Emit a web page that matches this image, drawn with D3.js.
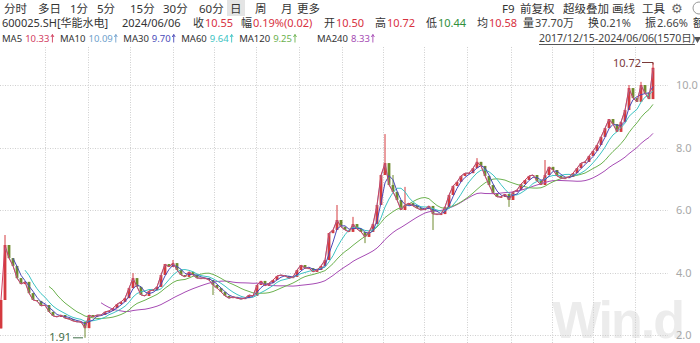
<!DOCTYPE html>
<html>
<head>
<meta charset="utf-8">
<script src="https://d3js.org/d3.v7.min.js"></script>
<style>
  body { margin: 0; background: #fff; }
  svg { display: block; font-family: "Noto Sans", "Noto Sans CJK SC", sans-serif; }
</style>
</head>
<body>
<svg width="700" height="343"></svg>
<script>
// ---- data (one sample ~ every 9.6 trading days) ----
const totalDays = 1570;
const firstOpen = 2.21;
const closes = [
  3.12, 4.88, 4.46, 4.21, 3.82, 3.63, 3.70, 3.34, 3.12, 3.09,
  2.93, 2.96, 2.74, 2.61, 2.58, 2.64, 2.54, 2.51, 2.45, 2.42,
  2.42, 2.22, 2.64, 2.58, 2.64, 2.64, 2.74, 2.77, 2.86, 2.99,
  3.06, 3.18, 3.50, 3.82, 3.54, 3.28, 3.25, 3.41, 3.44, 3.54,
  3.92, 4.27, 4.18, 4.30, 4.08, 3.92, 3.86, 4.02, 3.92, 3.82,
  3.82, 3.82, 3.76, 3.60, 3.50, 3.38, 3.25, 3.18, 3.22, 3.18,
  3.15, 3.18, 3.28, 3.25, 3.60, 3.73, 3.57, 3.66, 3.76, 3.89,
  3.92, 3.89, 3.82, 3.86, 4.08, 4.24, 4.14, 4.14, 4.02, 4.08,
  4.21, 4.40, 5.26, 5.36, 5.68, 5.46, 5.36, 5.30, 5.55, 5.39,
  5.30, 5.14, 5.30, 5.55, 6.16, 7.12, 7.50, 6.80, 6.58, 6.32,
  6.00, 6.16, 6.22, 6.13, 6.06, 6.00, 6.03, 6.13, 5.87, 5.87,
  5.87, 6.10, 6.48, 6.77, 6.90, 7.09, 7.18, 7.18, 7.34, 7.54,
  7.41, 7.09, 6.80, 6.54, 6.42, 6.42, 6.51, 6.32, 6.58, 6.64,
  6.83, 6.96, 7.09, 7.12, 6.93, 6.80, 7.12, 7.38, 7.28, 7.09,
  7.02, 7.02, 7.06, 7.18, 7.34, 7.50, 7.54, 7.73, 7.89, 8.08,
  8.34, 8.62, 8.91, 8.75, 8.50, 8.82, 9.20, 9.90, 9.58, 9.46,
  10.00, 9.74, 9.55, 10.55
];
// sparse wick extremes: [sample index, price]
const wickHighs = [[1, 5.20], [33, 3.98], [43, 4.40], [84, 6.16], [88, 5.78], [96, 8.43],
  [98, 7.12], [101, 6.74], [119, 7.66], [136, 7.60], [157, 10.00], [160, 10.10], [163, 10.72]];
const wickLows = [[21, 1.91], [53, 3.28], [91, 4.94], [108, 5.36], [127, 6.10]];

const yTicks = [2, 4, 6, 8, 10];
// vertical grid lines, in sample units
const gridSamples = [11.1, 21.8, 32.3, 43, 53.2, 63.7, 74.5, 85.2, 95.5, 105.7, 116.5, 127.5, 137.7, 148, 158.5];

const maDefs = [
  { name: 'MA240', n: 240, color: '#a64bb4', val: '8.33' },
  { name: 'MA120', n: 120, color: '#6cb24f', val: '9.25' },
  { name: 'MA60',  n: 60,  color: '#3cc3c3', val: '9.64' },
  { name: 'MA30',  n: 30,  color: '#4a4ab8', val: '9.70' },
  { name: 'MA10',  n: 10,  color: '#6f9fcc', val: '10.09' },
  { name: 'MA5',   n: 5,   color: '#d2405f', val: '10.33' }
];

const tabs = ['分时', '多日', '1分', '5分', '15分', '30分', '60分', '日', '周', '月', '更多'];
const tools = ['F9', '前复权', '超级叠加', '画线', '工具'];
const quote = [
  ['收', '10.55', 'up'], ['幅', '0.19%(0.02)', 'up'], ['开', '10.50', 'up'], ['高', '10.72', 'up'],
  ['低', '10.44', 'down'], ['均', '10.58', 'up'], ['量', '37.70万', 'flat'], ['换', '0.21%', 'flat'],
  ['振', '2.66%', 'flat']
];

// ---- layout ----
const svg = d3.select('svg');
const plotTop = 47, plotBottom = 343, plotRight = 668;
const red = '#d8323f', green = '#2f8f3a', txt = '#333';
const upCol = '#d43a3f', downCol = '#6f8a2e';

const x = d3.scaleLinear().domain([0, closes.length - 1]).range([1, 653]);
const y = d3.scaleLinear().domain([2, 10]).range([335, 85]);

// watermark
svg.append('text')
  .attr('x', 552).attr('y', 338)
  .attr('font-family', 'Liberation Sans, Arial, sans-serif')
  .attr('font-weight', 'bold').attr('font-size', 52).attr('letter-spacing', -2)
  .attr('fill', '#ececec').text('Win.d');

// grid
const grid = svg.append('g').attr('stroke', '#cfcfcf').attr('stroke-dasharray', '1,1.5');
grid.selectAll('line.h').data(yTicks).join('line').attr('class', 'h')
  .attr('x1', 0).attr('x2', plotRight)
  .attr('y1', d => Math.round(y(d)) + 0.5).attr('y2', d => Math.round(y(d)) + 0.5);
grid.selectAll('line.v').data(gridSamples).join('line').attr('class', 'v')
  .attr('x1', d => Math.round(x(d)) + 0.5).attr('x2', d => Math.round(x(d)) + 0.5)
  .attr('y1', plotTop).attr('y2', plotBottom);

// y axis labels
svg.append('g').selectAll('text').data(yTicks).join('text')
  .attr('x', 676).attr('y', d => y(d) + 4)
  .attr('font-size', 11).attr('fill', '#a8a8a8')
  .text(d => d.toFixed(1));

// candles
const hiMap = new Map(wickHighs), loMap = new Map(wickLows);
const candles = closes.map((c, i) => {
  const o = i === 0 ? firstOpen : closes[i - 1];
  const h = Math.max(o, c, hiMap.get(i) || 0);
  const l = Math.min(o, c, loMap.has(i) ? loMap.get(i) : Infinity);
  return { i, o, c, h, l, up: c >= o };
});

const plot = svg.append('g');
const cg = plot.append('g');
cg.selectAll('line').data(candles).join('line')
  .attr('x1', d => x(d.i)).attr('x2', d => x(d.i))
  .attr('y1', d => y(d.h)).attr('y2', d => y(d.l))
  .attr('stroke', d => d.up ? upCol : downCol).attr('stroke-width', 1);
cg.selectAll('rect').data(candles).join('rect')
  .attr('x', d => x(d.i) - 1.4).attr('width', 2.8)
  .attr('y', d => y(Math.max(d.o, d.c)))
  .attr('height', d => Math.max(1, Math.abs(y(d.o) - y(d.c))))
  .attr('fill', d => d.up ? upCol : downCol);

// moving averages computed from closes (window scaled to sample spacing)
const daysPerSample = totalDays / closes.length;
function movingAvg(n) {
  const w = Math.max(1, n / daysPerSample);
  return closes.map((c, i) => {
    if (i + 1 < w) return null;
    let sum = 0, wt = 0, rem = w, k = 0;
    while (rem > 0 && i - k >= 0) {
      const a = Math.min(1, rem);
      sum += closes[i - k] * a; wt += a; rem -= a; k++;
    }
    return sum / wt;
  });
}
const line = d3.line().defined(d => d != null).x((d, i) => x(i)).y(d => y(d));
maDefs.forEach(m => {
  plot.append('path').datum(movingAvg(m.n))
    .attr('fill', 'none').attr('stroke', m.color).attr('stroke-width', 1)
    .attr('d', line);
});

// extremes
const maxC = d3.maxIndex(candles, d => d.h), minC = d3.minIndex(candles, d => d.l);
const mx = x(maxC), my = y(candles[maxC].h);
plot.append('path').attr('d', `M${mx - 11},${my}H${mx}V${my + 2}`)
  .attr('fill', 'none').attr('stroke', '#7a3a3a');
plot.append('text').attr('x', mx - 12).attr('y', my + 4).attr('text-anchor', 'end')
  .attr('font-size', 11).attr('fill', '#7a3a3a').text(candles[maxC].h.toFixed(2));
const nx = x(minC), ny = y(candles[minC].l);
plot.append('line').attr('x1', nx - 12).attr('x2', nx - 2).attr('y1', ny).attr('y2', ny)
  .attr('stroke', '#3f6e48');
plot.append('text').attr('x', nx - 14).attr('y', ny + 3).attr('text-anchor', 'end')
  .attr('font-size', 11).attr('fill', '#3f6e48').text(candles[minC].l.toFixed(2));

// ---- header ----
const head = svg.append('g');
head.append('rect').attr('x', 227).attr('y', 0).attr('width', 18).attr('height', 16).attr('fill', '#e4e4e4');
const tabX = [4, 38, 70, 97, 130, 163, 199, 230, 255, 281, 297];
head.selectAll('text.tab').data(tabs).join('text').attr('class', 'tab')
  .attr('x', (d, i) => tabX[i]).attr('y', 12.5)
  .attr('font-size', 11.5).attr('fill', txt).text(d => d);
const toolX = [502, 520, 563, 612, 642];
head.selectAll('text.tool').data(tools).join('text').attr('class', 'tool')
  .attr('x', (d, i) => toolX[i]).attr('y', 12.5)
  .attr('font-size', 11.5).attr('fill', txt).text(d => d);
head.append('text').attr('x', 671).attr('y', 13).attr('font-size', 13)
  .attr('font-family', 'DejaVu Sans').attr('fill', '#666').text('⚙');
head.append('circle').attr('cx', 699).attr('cy', 8).attr('r', 6)
  .attr('fill', 'none').attr('stroke', '#999');

// row 2
head.append('text').attr('x', 2).attr('y', 27).attr('font-size', 11).attr('fill', txt).text('600025.SH[华能水电]');
head.append('text').attr('x', 122).attr('y', 27).attr('font-size', 11).attr('fill', txt).text('2024/06/06');
const qLabelX = [193, 241, 324, 375, 426, 477, 523, 588, 645];
const qColor = { up: red, down: green, flat: '#444' };
quote.forEach((q, i) => {
  head.append('text').attr('x', qLabelX[i]).attr('y', 27).attr('font-size', 11).attr('fill', txt).text(q[0]);
  head.append('text').attr('x', qLabelX[i] + 12).attr('y', 27).attr('font-size', 11)
    .attr('fill', qColor[q[2]]).text(q[1]);
});
head.append('text').attr('x', 693).attr('y', 27).attr('font-size', 11).attr('fill', txt).text('额');

// row 3: MA legend, laid out left to right
const maOrder = maDefs.slice().reverse();
let cx = 2;
maOrder.forEach((m, i) => {
  if (m.name === 'MA240') cx = Math.max(cx, 317);
  const lab = head.append('text').attr('x', cx).attr('y', 42).attr('font-size', 9.5)
    .attr('fill', txt).text(m.name);
  cx += lab.node().getComputedTextLength() + 3;
  const v = head.append('text').attr('x', cx).attr('y', 42).attr('font-size', 9.5)
    .attr('fill', m.color).text(m.val);
  cx += v.node().getComputedTextLength() + 1.5;
  head.append('path').attr('d', `M${cx + 1.5},42.5V34.5M${cx},37L${cx + 1.5},34.5L${cx + 3},37`)
    .attr('fill', 'none').attr('stroke', m.color).attr('stroke-width', 0.9);
  cx += 4 + 5;
});
const range = head.append('text').attr('x', 539).attr('y', 42).attr('font-size', 10.5).attr('fill', '#444')
  .text('2017/12/15-2024/06/06(1570日)');
const rw = range.node().getComputedTextLength();
head.append('line').attr('x1', 539).attr('x2', 539 + rw).attr('y1', 44.5).attr('y2', 44.5).attr('stroke', '#555');
head.append('path').attr('d', 'M694,37H701L697.5,43Z').attr('fill', '#555');
</script>
</body>
</html>
